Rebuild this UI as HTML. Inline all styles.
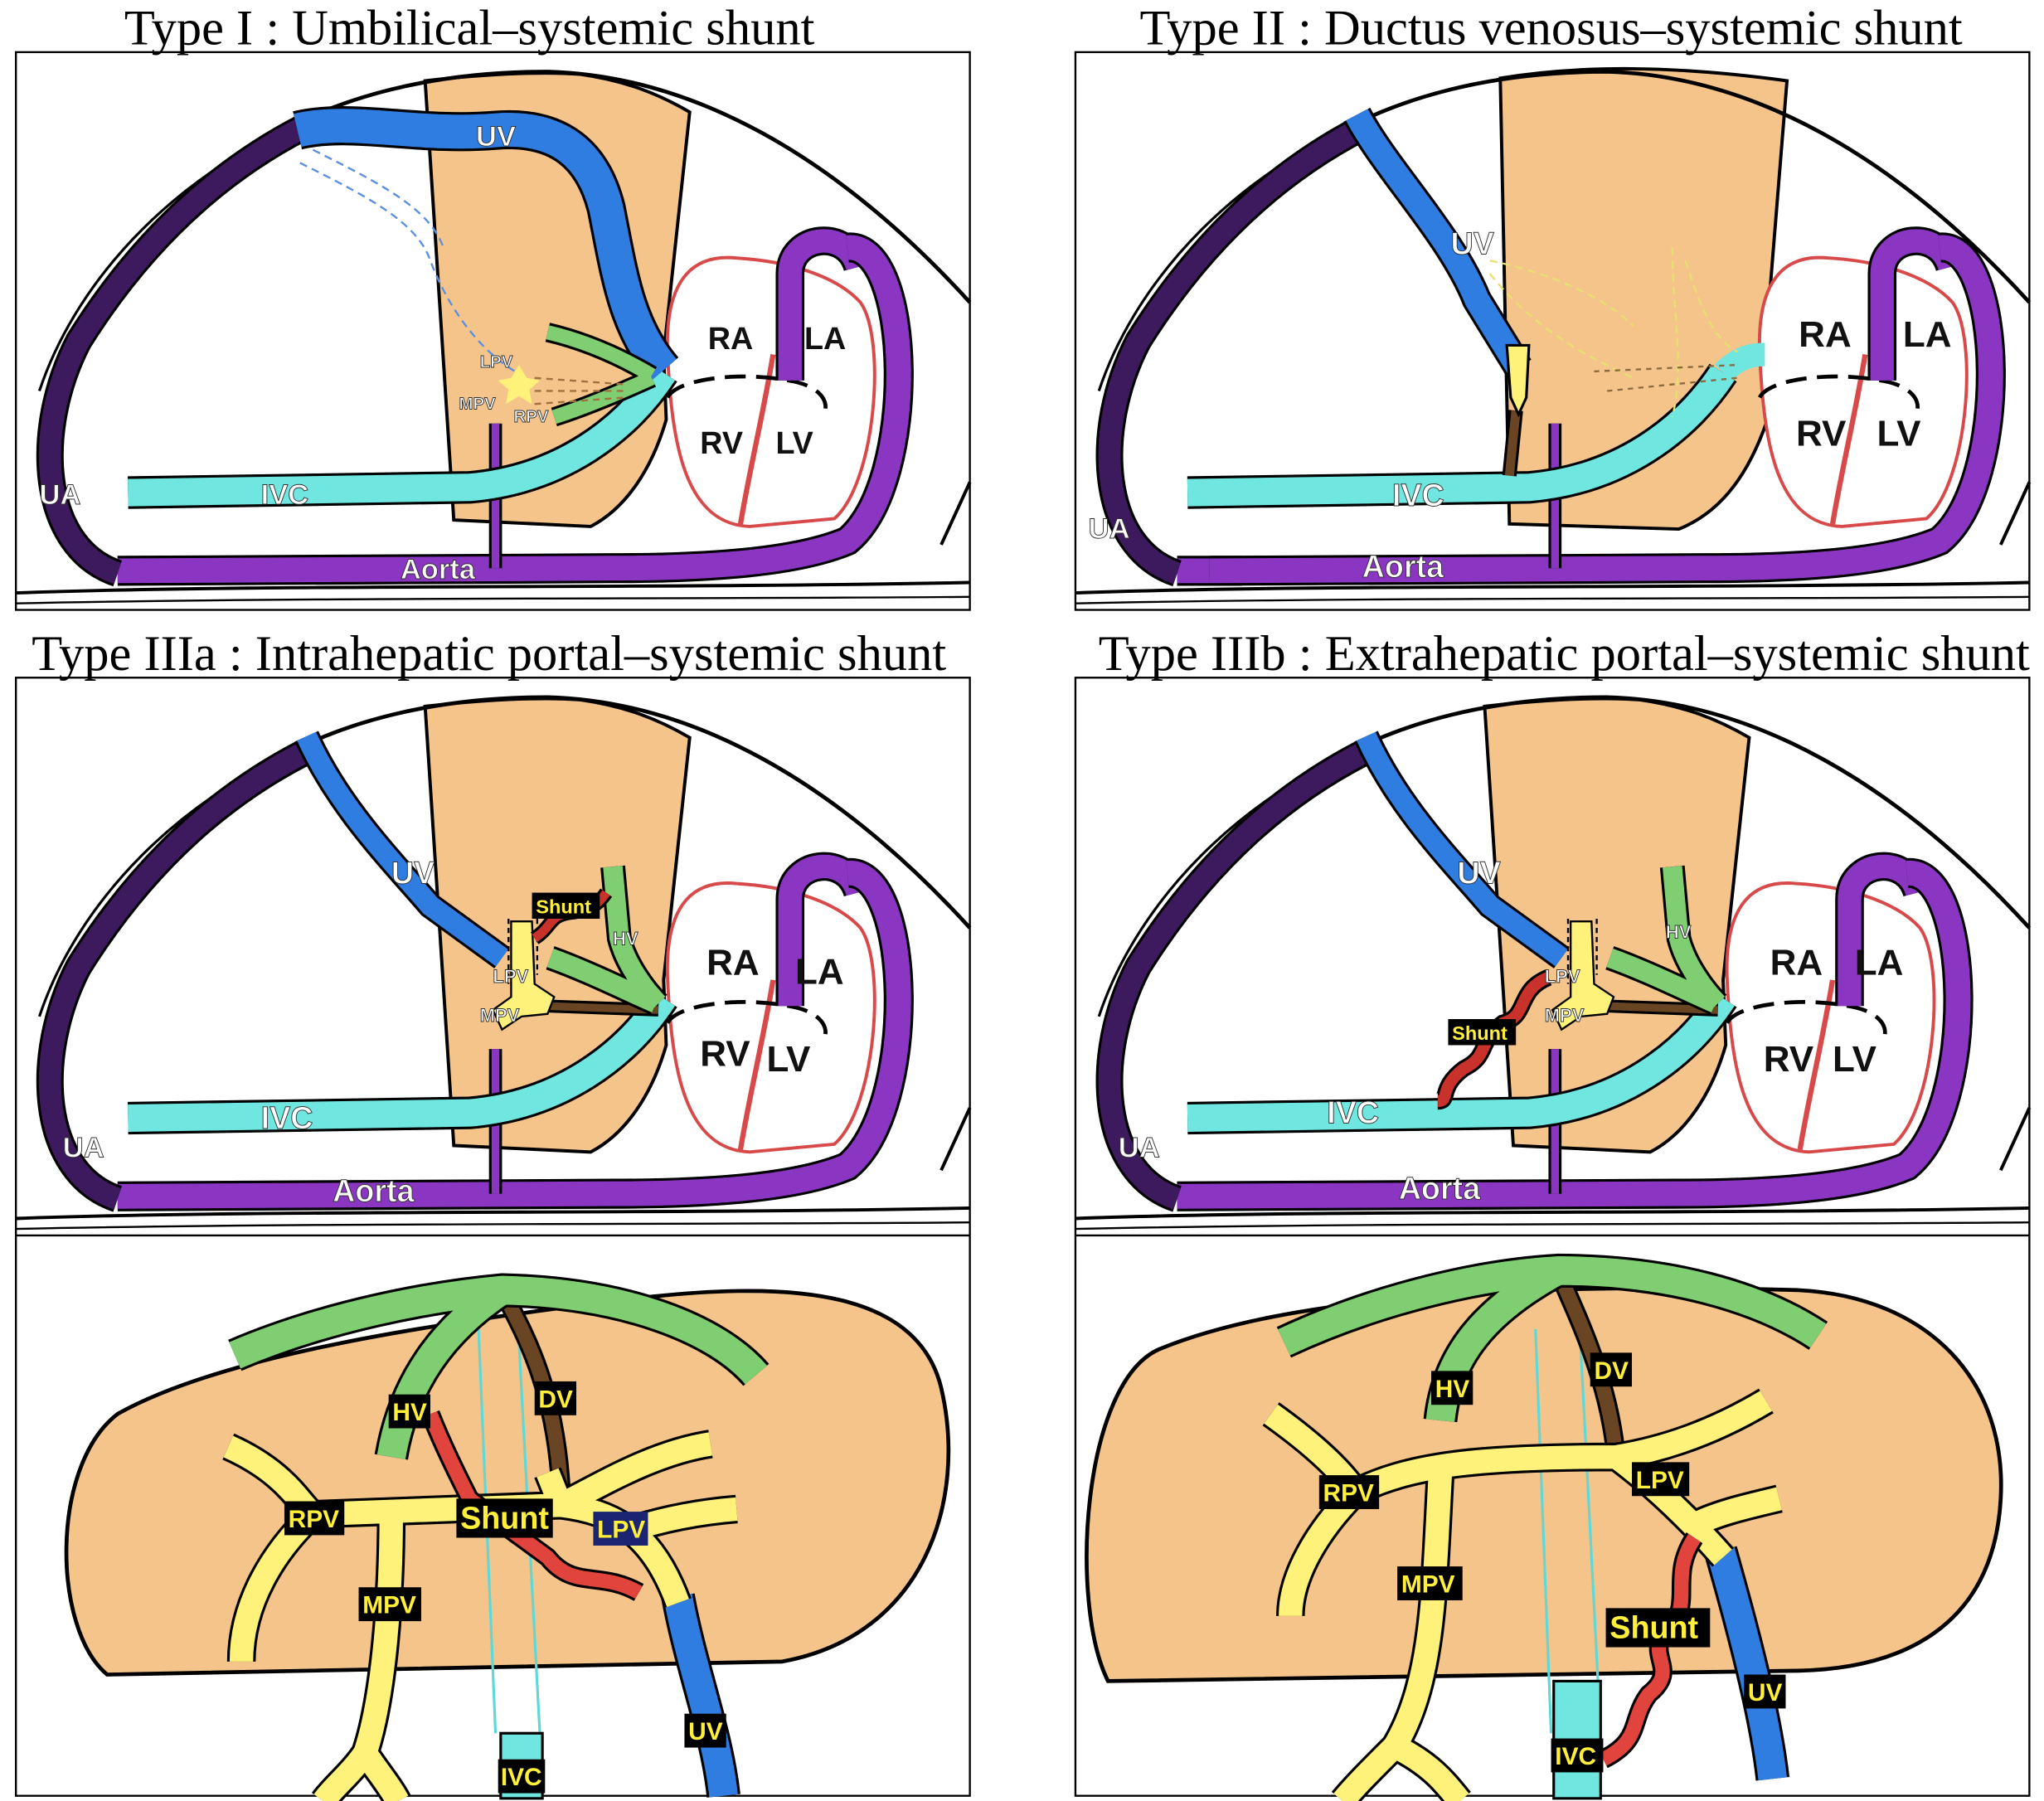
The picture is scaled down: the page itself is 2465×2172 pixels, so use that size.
<!DOCTYPE html>
<html><head><meta charset="utf-8"><style>
html,body{margin:0;padding:0;background:#fff}
svg{display:block}
.t{font-family:"Liberation Serif",serif;font-size:38.5px;fill:#000}
.w{font-family:"Liberation Sans",sans-serif;font-weight:bold;fill:#fff;stroke:#333;stroke-width:.6}
.k{font-family:"Liberation Sans",sans-serif;font-weight:bold;fill:#111}
.y{font-family:"Liberation Sans",sans-serif;font-weight:bold;fill:#ffef3a}
</style></head><body>
<svg width="2465" height="2172" viewBox="0 0 1568 1382" xmlns="http://www.w3.org/2000/svg">
<defs>
<g id="body">
 <path d="M30,300 C60,210 140,130 240,90" fill="none" stroke="#000" stroke-width="2"/>
 <path d="M210,104 C260,75 330,55 420,55 C530,58 640,118 744,232" fill="none" stroke="#000" stroke-width="3"/>
 <path d="M744,370 C735,390 728,405 722,418" fill="none" stroke="#000" stroke-width="2.5"/>
 <path d="M12,455 C200,448 500,452 744,447" fill="none" stroke="#000" stroke-width="2.5"/>
 <path d="M12,463 C250,458 500,460 744,458" fill="none" stroke="#000" stroke-width="1.5"/>
</g>
<g id="liver">
 <path d="M326,62 C380,56 420,55 445,57 C480,62 505,72 529,86 L509,272 L511,322 C500,360 480,390 453,404 L348,399 Z" fill="#f4c48a" stroke="#000" stroke-width="2.5"/>
</g>
<g id="liver2">
 <path d="M338,60 C400,50 470,50 558,62 L541,272 L543,322 C530,360 510,392 475,406 L345,402 Z" fill="#f4c48a" stroke="#000" stroke-width="2.5"/>
</g>
<g id="heart">
 <path d="M512,270 C510,210 535,195 565,198 C600,200 640,210 660,232 C680,260 672,370 640,398 L575,404 C525,402 515,340 512,270 Z" fill="#fff" stroke="#d84a4a" stroke-width="2.5"/>
 <path d="M593,272 C585,320 575,360 568,402" fill="none" stroke="#d84a4a" stroke-width="4"/>
 <path d="M512,305 C520,290 570,285 605,292 C625,295 635,305 633,315" fill="none" stroke="#000" stroke-width="3" stroke-dasharray="16,8"/>
 <path d="M606,292 L606,210 C606,180 650,175 658,205" fill="none" stroke="#000" stroke-width="22"/>
 <path d="M606,292 L606,210 C606,180 650,175 658,205" fill="none" stroke="#8a36c2" stroke-width="18"/>
 <path d="M650,190 C700,185 705,370 650,415 C610,432 540,436 470,436 L90,438" fill="none" stroke="#000" stroke-width="23"/>
 <path d="M650,190 C700,185 705,370 650,415 C610,432 540,436 470,436 L90,438" fill="none" stroke="#8a36c2" stroke-width="19"/>
</g>
<g id="vess">
 <path d="M380,436 L380,325" stroke="#000" stroke-width="10"/><path d="M380,436 L380,325" stroke="#8a36c2" stroke-width="6"/>
 <path d="M90,440 C30,420 25,330 60,262 C110,182 170,130 232,98" fill="none" stroke="#000" stroke-width="21"/>
 <path d="M90,440 C30,420 25,330 60,262 C110,182 170,130 232,98" fill="none" stroke="#3d1a5e" stroke-width="17"/>
 <path d="M98,378 L360,374 C430,368 480,330 509,286" fill="none" stroke="#000" stroke-width="25"/>
 <path d="M98,378 L360,374 C430,368 480,330 509,286" fill="none" stroke="#6fe6e0" stroke-width="21"/>
</g>
</defs>

<text class="t" x="360" y="34" text-anchor="middle">Type I : Umbilical–systemic shunt</text>
<text class="t" x="1190" y="34" text-anchor="middle">Type II : Ductus venosus–systemic shunt</text>
<text class="t" x="375" y="514" text-anchor="middle">Type IIIa : Intrahepatic portal–systemic shunt</text>
<text class="t" x="1200" y="514" text-anchor="middle">Type IIIb : Extrahepatic portal–systemic shunt</text>

<rect x="12" y="40" width="732" height="428" fill="none" stroke="#000" stroke-width="1.5"/>
<rect x="825" y="40" width="732" height="428" fill="none" stroke="#000" stroke-width="1.5"/>
<rect x="12" y="520" width="732" height="858" fill="none" stroke="#000" stroke-width="1.5"/>
<rect x="825" y="520" width="732" height="858" fill="none" stroke="#000" stroke-width="1.5"/>
<line x1="12" y1="948" x2="744" y2="948" stroke="#000" stroke-width="1.5"/>
<line x1="825" y1="948" x2="1557" y2="948" stroke="#000" stroke-width="1.5"/>

<!-- Panel 1 -->
<svg x="0" y="0" width="756" height="470" viewBox="0 0 756 470" overflow="hidden">
<use href="#liver"/><use href="#body"/><use href="#heart"/><use href="#vess"/>
<path d="M228,100 C270,90 320,105 380,100 C430,96 455,120 465,160 C475,210 480,250 509,284" fill="none" stroke="#000" stroke-width="30"/>
<path d="M228,100 C270,90 320,105 380,100 C430,96 455,120 465,160 C475,210 480,250 509,284" fill="none" stroke="#2f7de0" stroke-width="26"/>
<path d="M420,255 C450,262 478,275 500,288 M425,320 C450,312 478,300 500,290" fill="none" stroke="#000" stroke-width="15"/>
<path d="M420,255 C450,262 478,275 500,288 M425,320 C450,312 478,300 500,290" fill="none" stroke="#7fcf72" stroke-width="11"/>
<path d="M230,125 C280,150 320,170 330,200 C345,240 370,270 395,285 M240,115 C290,140 330,160 340,190" fill="none" stroke="#5b8fe0" stroke-width="1.5" stroke-dasharray="6,4"/>
<path d="M410,290 L480,295 M410,300 L480,300 M410,310 L480,305" stroke="#a07040" stroke-width="1.5" stroke-dasharray="5,4"/>
<polygon points="398,280 404,290 414,292 406,299 408,310 398,304 388,310 390,299 382,292 392,290" fill="#fff27a"/>
<text class="w" x="368" y="282" font-size="13">LPV</text>
<text class="w" x="352" y="314" font-size="13">MPV</text>
<text class="w" x="394" y="324" font-size="13">RPV</text>
<text class="w" x="365" y="112" font-size="22">UV</text>
<text class="w" x="200" y="387" font-size="22">IVC</text>
<text class="w" x="307" y="444" font-size="22">Aorta</text>
<text class="w" x="30" y="387" font-size="22">UA</text>
<text class="k" x="543" y="268" font-size="24">RA</text>
<text class="k" x="617" y="268" font-size="24">LA</text>
<text class="k" x="537" y="348" font-size="24">RV</text>
<text class="k" x="595" y="348" font-size="24">LV</text>
</svg>

<!-- Panel 2 -->
<svg x="813" y="0" width="756" height="470" viewBox="0 0 756 470" overflow="hidden">
<use href="#liver2"/><use href="#body"/>
<path d="M90,438 L140,438" fill="none" stroke="#000" stroke-width="23"/>
<path d="M90,438 L140,438" fill="none" stroke="#8a36c2" stroke-width="19"/>
<use href="#heart" transform="translate(25,0)"/><use href="#vess"/>
<path d="M509,286 C520,275 530,272 541,272" stroke="#6fe6e0" stroke-width="18" fill="none"/>
<path d="M350,315 L345,365" stroke="#000" stroke-width="11"/><path d="M350,315 L345,365" stroke="#6a4524" stroke-width="7"/>
<path d="M228,88 C250,130 300,180 320,230 L352,282" fill="none" stroke="#000" stroke-width="23"/>
<path d="M228,88 C250,130 300,180 320,230 L352,282" fill="none" stroke="#2f7de0" stroke-width="19"/>
<path d="M343,265 L360,265 L358,305 L352,318 L346,305 Z" fill="#fff27a" stroke="#000" stroke-width="2"/>
<path d="M330,200 C380,210 420,230 440,250 M330,210 C370,260 420,280 440,290 M480,200 C490,230 500,260 520,270 M470,190 C470,240 480,280 470,320" fill="none" stroke="#e8e070" stroke-width="1.5" stroke-dasharray="6,4"/>
<path d="M410,285 L520,280 M420,300 L520,290" stroke="#8a6a40" stroke-width="1.5" stroke-dasharray="4,4"/>
<text class="w" x="300" y="195" font-size="24">UV</text>
<text class="w" x="255" y="388" font-size="24">IVC</text>
<text class="w" x="232" y="443" font-size="24">Aorta</text>
<text class="w" x="22" y="413" font-size="22">UA</text>
<text class="k" x="567" y="266" font-size="28">RA</text>
<text class="k" x="647" y="266" font-size="28">LA</text>
<text class="k" x="565" y="342" font-size="28">RV</text>
<text class="k" x="627" y="342" font-size="28">LV</text>
</svg>

<!-- Panel 3 -->
<svg x="0" y="480" width="756" height="470" viewBox="0 0 756 470" overflow="hidden">
<use href="#liver"/><use href="#body"/><use href="#heart"/><use href="#vess"/>
<path d="M420,292 L505,295" stroke="#000" stroke-width="10"/><path d="M420,292 L505,295" stroke="#6a4524" stroke-width="6"/>
<path d="M470,185 L475,240 C480,260 495,280 505,290 M422,255 C450,265 480,280 503,290" fill="none" stroke="#000" stroke-width="19"/>
<path d="M470,185 L475,240 C480,260 495,280 505,290 M422,255 C450,265 480,280 503,290" fill="none" stroke="#7fcf72" stroke-width="15"/>
<path d="M235,85 C260,140 300,180 330,215 L385,255" fill="none" stroke="#000" stroke-width="20"/>
<path d="M235,85 C260,140 300,180 330,215 L385,255" fill="none" stroke="#2f7de0" stroke-width="16"/>
<path d="M392,227 L408,227 L410,275 L425,285 L420,298 L400,300 L385,310 L378,295 L392,285 Z" fill="#fff27a" stroke="#000" stroke-width="1.5"/>
<path d="M390,225 L390,275 M412,225 L412,268" stroke="#000" stroke-width="1.5" stroke-dasharray="4,3"/>
<path d="M410,240 C425,230 420,222 440,220 C455,218 460,212 465,205" fill="none" stroke="#000" stroke-width="11"/>
<path d="M410,240 C425,230 420,222 440,220 C455,218 460,212 465,205" fill="none" stroke="#c8322a" stroke-width="7"/>
<rect x="408" y="205" width="52" height="20" fill="#000"/><text class="y" x="411" y="221" font-size="15">Shunt</text>
<text class="w" x="470" y="245" font-size="14">HV</text>
<text class="w" x="378" y="274" font-size="14">LPV</text>
<text class="w" x="368" y="304" font-size="14">MPV</text>
<text class="w" x="300" y="198" font-size="24">UV</text>
<text class="w" x="200" y="386" font-size="24">IVC</text>
<text class="w" x="255" y="442" font-size="24">Aorta</text>
<text class="w" x="48" y="408" font-size="22">UA</text>
<text class="k" x="542" y="268" font-size="28">RA</text>
<text class="k" x="610" y="275" font-size="28">LA</text>
<text class="k" x="537" y="338" font-size="28">RV</text>
<text class="k" x="588" y="342" font-size="28">LV</text>
</svg>

<!-- Panel 4 -->
<svg x="813" y="480" width="756" height="470" viewBox="0 0 756 470" overflow="hidden">
<use href="#liver"/><use href="#body"/><use href="#heart"/><use href="#vess"/>
<path d="M420,292 L505,295" stroke="#000" stroke-width="10"/><path d="M420,292 L505,295" stroke="#6a4524" stroke-width="6"/>
<path d="M470,185 L475,240 C480,260 495,280 505,290 M422,255 C450,265 480,280 503,290" fill="none" stroke="#000" stroke-width="19"/>
<path d="M470,185 L475,240 C480,260 495,280 505,290 M422,255 C450,265 480,280 503,290" fill="none" stroke="#7fcf72" stroke-width="15"/>
<path d="M235,85 C260,140 300,180 330,215 L385,255" fill="none" stroke="#000" stroke-width="20"/>
<path d="M235,85 C260,140 300,180 330,215 L385,255" fill="none" stroke="#2f7de0" stroke-width="16"/>
<path d="M392,227 L408,227 L410,275 L425,285 L420,298 L400,300 L385,310 L378,295 L392,285 Z" fill="#fff27a" stroke="#000" stroke-width="1.5"/>
<path d="M390,225 L390,275 M412,225 L412,268" stroke="#000" stroke-width="1.5" stroke-dasharray="4,3"/>
<path d="M375,270 C350,280 360,300 340,305 C320,320 330,330 310,340 C290,355 300,365 290,365" fill="none" stroke="#000" stroke-width="13"/>
<path d="M375,270 C350,280 360,300 340,305 C320,320 330,330 310,340 C290,355 300,365 290,365" fill="none" stroke="#c8322a" stroke-width="9"/>
<rect x="298" y="302" width="52" height="20" fill="#000"/><text class="y" x="301" y="318" font-size="15">Shunt</text>
<text class="w" x="465" y="240" font-size="14">HV</text>
<text class="w" x="372" y="274" font-size="14">LPV</text>
<text class="w" x="372" y="304" font-size="14">MPV</text>
<text class="w" x="305" y="198" font-size="24">UV</text>
<text class="w" x="205" y="382" font-size="24">IVC</text>
<text class="w" x="260" y="440" font-size="24">Aorta</text>
<text class="w" x="45" y="408" font-size="22">UA</text>
<text class="k" x="545" y="268" font-size="28">RA</text>
<text class="k" x="610" y="268" font-size="28">LA</text>
<text class="k" x="540" y="342" font-size="28">RV</text>
<text class="k" x="593" y="342" font-size="28">LV</text>
</svg>

<!-- Panel 5 -->
<g>
<path d="M90,1085 C170,1040 330,1015 500,995 C620,982 705,995 722,1065 C742,1150 710,1255 600,1275 L82,1285 C40,1250 38,1125 90,1085 Z" fill="#f4c48a" stroke="#000" stroke-width="3"/>
<g fill="none" stroke-linecap="butt">
<path d="M367,1020 L380,1330 M398,1030 L414,1330" stroke="#5fd8d8" stroke-width="2"/>
<path d="M385,990 C400,1020 425,1060 430,1140" stroke="#000" stroke-width="15"/><path d="M385,990 C400,1020 425,1060 430,1140" stroke="#6a4524" stroke-width="11"/>
<path d="M180,1040 C250,1010 330,995 385,990 C480,992 550,1020 580,1055 M385,990 C340,1020 310,1060 300,1118" stroke="#000" stroke-width="26"/>
<path d="M180,1040 C250,1010 330,995 385,990 C480,992 550,1020 580,1055 M385,990 C340,1020 310,1060 300,1118" stroke="#7fcf72" stroke-width="22"/>
<path d="M520,1225 C530,1280 550,1330 555,1378" stroke="#000" stroke-width="26"/><path d="M520,1225 C530,1280 550,1330 555,1378" stroke="#2f7de0" stroke-width="22"/>
<path d="M175,1110 C220,1130 230,1155 240,1162 C210,1190 185,1230 185,1275 M240,1162 L430,1155 C460,1140 500,1115 545,1108 M430,1155 C470,1160 500,1175 520,1230 M480,1175 C510,1165 540,1160 565,1158 M300,1162 C300,1220 295,1300 280,1345 M280,1345 C270,1360 255,1372 248,1382 M280,1345 C290,1360 300,1372 305,1382 M430,1155 L420,1130" stroke="#000" stroke-width="22"/>
<path d="M175,1110 C220,1130 230,1155 240,1162 C210,1190 185,1230 185,1275 M240,1162 L430,1155 C460,1140 500,1115 545,1108 M430,1155 C470,1160 500,1175 520,1230 M480,1175 C510,1165 540,1160 565,1158 M300,1162 C300,1220 295,1300 280,1345 M280,1345 C270,1360 255,1372 248,1382 M280,1345 C290,1360 300,1372 305,1382 M430,1155 L420,1130" stroke="#fff27a" stroke-width="18"/>
<path d="M330,1085 C340,1110 350,1130 360,1150 C385,1170 400,1180 420,1195 C440,1220 460,1205 490,1222" stroke="#000" stroke-width="15"/>
<path d="M330,1085 C340,1110 350,1130 360,1150 C385,1170 400,1180 420,1195 C440,1220 460,1205 490,1222" stroke="#e0443c" stroke-width="11"/>
</g>
<rect x="384" y="1330" width="32" height="50" fill="#6fe6e0" stroke="#000" stroke-width="2"/>
<rect x="298" y="1070" width="32" height="26" fill="#000"/><text class="y" x="301" y="1090" font-size="19">HV</text>
<rect x="410" y="1060" width="32" height="26" fill="#000"/><text class="y" x="413" y="1080" font-size="19">DV</text>
<rect x="218" y="1152" width="46" height="26" fill="#000"/><text class="y" x="221" y="1172" font-size="19">RPV</text>
<rect x="350" y="1150" width="74" height="30" fill="#000"/><text class="y" x="353" y="1173" font-size="24">Shunt</text>
<rect x="455" y="1160" width="42" height="26" fill="#1a2470"/><text class="y" x="458" y="1180" font-size="19">LPV</text>
<rect x="275" y="1218" width="48" height="26" fill="#000"/><text class="y" x="278" y="1238" font-size="19">MPV</text>
<rect x="525" y="1315" width="32" height="26" fill="#000"/><text class="y" x="528" y="1335" font-size="19">UV</text>
<rect x="382" y="1350" width="36" height="26" fill="#000"/><text class="y" x="384" y="1370" font-size="19">IVC</text>
</g>

<!-- Panel 6 -->
<g>
<path d="M890,1035 C1000,990 1200,985 1380,990 C1480,995 1540,1060 1535,1150 C1530,1240 1470,1280 1380,1282 L850,1290 C820,1230 830,1060 890,1035 Z" fill="#f4c48a" stroke="#000" stroke-width="3"/>
<g fill="none">
<path d="M1178,1020 L1190,1330 M1212,1020 L1228,1330" stroke="#5fd8d8" stroke-width="2"/>
<path d="M1195,975 C1210,1010 1235,1060 1240,1120" stroke="#000" stroke-width="15"/><path d="M1195,975 C1210,1010 1235,1060 1240,1120" stroke="#6a4524" stroke-width="11"/>
<path d="M985,1030 C1060,995 1140,978 1195,975 C1280,975 1350,995 1395,1025 M1195,975 C1140,1005 1110,1040 1105,1090" stroke="#000" stroke-width="26"/>
<path d="M985,1030 C1060,995 1140,978 1195,975 C1280,975 1350,995 1395,1025 M1195,975 C1140,1005 1110,1040 1105,1090" stroke="#7fcf72" stroke-width="22"/>
<path d="M1320,1190 C1340,1260 1355,1320 1360,1365" stroke="#000" stroke-width="26"/><path d="M1320,1190 C1340,1260 1355,1320 1360,1365" stroke="#2f7de0" stroke-width="22"/>
<path d="M975,1085 C1010,1110 1030,1130 1040,1145 C1010,1175 990,1210 990,1240 M1040,1145 C1080,1125 1130,1118 1240,1118 C1290,1110 1330,1090 1355,1075 M1240,1118 C1270,1140 1300,1170 1322,1195 M1300,1170 C1320,1160 1345,1155 1365,1150 M1105,1130 C1100,1220 1100,1290 1070,1340 C1050,1360 1040,1370 1030,1382 M1070,1340 C1100,1355 1110,1370 1120,1382" stroke="#000" stroke-width="22"/>
<path d="M975,1085 C1010,1110 1030,1130 1040,1145 C1010,1175 990,1210 990,1240 M1040,1145 C1080,1125 1130,1118 1240,1118 C1290,1110 1330,1090 1355,1075 M1240,1118 C1270,1140 1300,1170 1322,1195 M1300,1170 C1320,1160 1345,1155 1365,1150 M1105,1130 C1100,1220 1100,1290 1070,1340 C1050,1360 1040,1370 1030,1382 M1070,1340 C1100,1355 1110,1370 1120,1382" stroke="#fff27a" stroke-width="18"/>
<path d="M1300,1180 C1280,1210 1300,1230 1280,1250 C1260,1270 1290,1280 1265,1300 C1250,1320 1260,1335 1230,1350" stroke="#000" stroke-width="15"/>
<path d="M1300,1180 C1280,1210 1300,1230 1280,1250 C1260,1270 1290,1280 1265,1300 C1250,1320 1260,1335 1230,1350" stroke="#e0443c" stroke-width="11"/>
</g>
<rect x="1192" y="1290" width="36" height="90" fill="#6fe6e0" stroke="#000" stroke-width="2"/>
<rect x="1098" y="1052" width="32" height="26" fill="#000"/><text class="y" x="1101" y="1072" font-size="19">HV</text>
<rect x="1220" y="1038" width="32" height="26" fill="#000"/><text class="y" x="1223" y="1058" font-size="19">DV</text>
<rect x="1012" y="1132" width="46" height="26" fill="#000"/><text class="y" x="1015" y="1152" font-size="19">RPV</text>
<rect x="1252" y="1122" width="44" height="26" fill="#000"/><text class="y" x="1255" y="1142" font-size="19">LPV</text>
<rect x="1072" y="1202" width="50" height="26" fill="#000"/><text class="y" x="1075" y="1222" font-size="19">MPV</text>
<rect x="1232" y="1234" width="80" height="30" fill="#000"/><text class="y" x="1235" y="1257" font-size="24">Shunt</text>
<rect x="1338" y="1285" width="32" height="26" fill="#000"/><text class="y" x="1341" y="1305" font-size="19">UV</text>
<rect x="1190" y="1334" width="40" height="26" fill="#000"/><text class="y" x="1193" y="1354" font-size="19">IVC</text>
</g>
</svg>
</body></html>
